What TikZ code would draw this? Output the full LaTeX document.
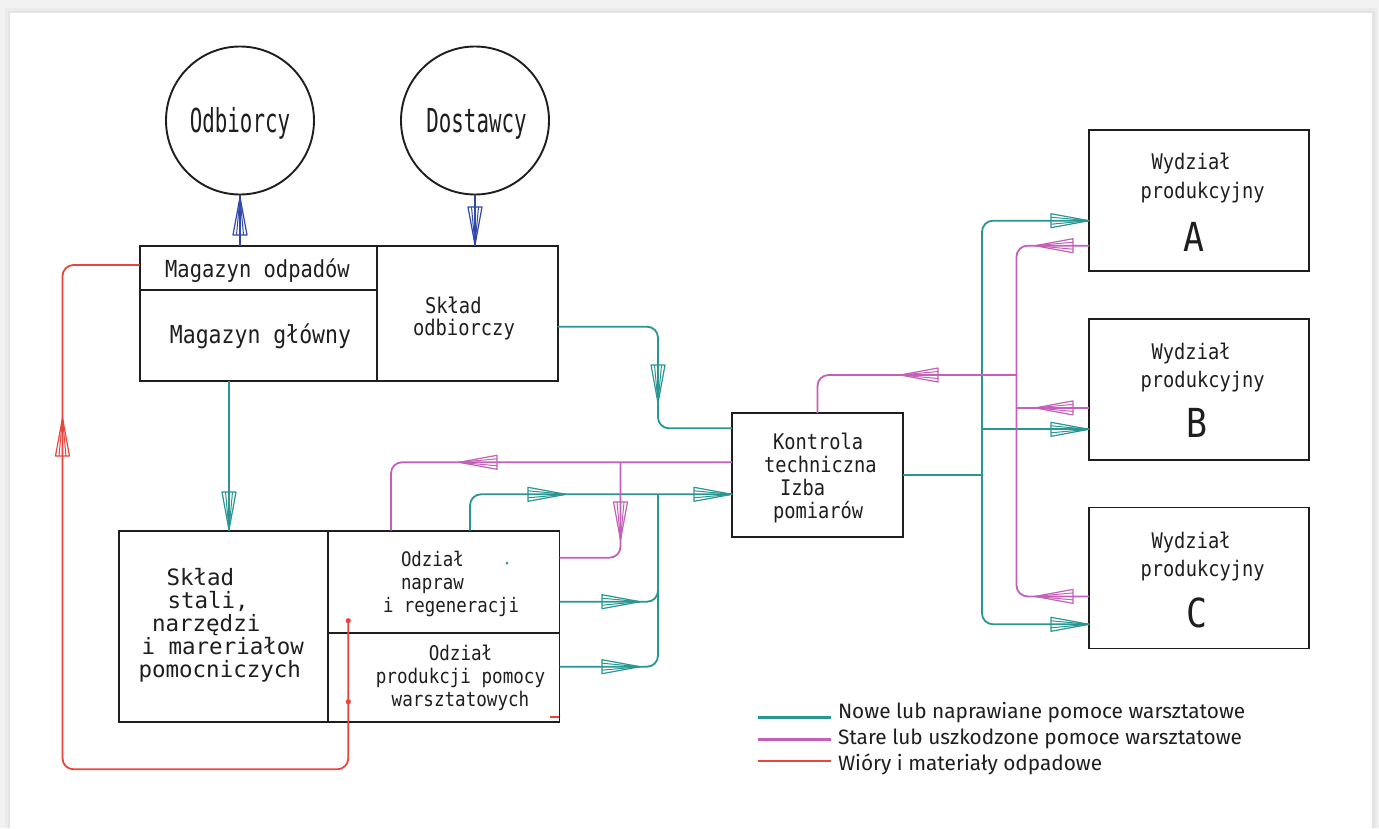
\documentclass[tikz,border=0pt]{standalone}
\usepackage{fontspec}
\usetikzlibrary{calc}
\newfontfamily\iso[FakeStretch=0.87]{DejaVu Sans Mono}
\newfontfamily\isoC[FakeStretch=0.63]{DejaVu Sans Mono}
\newfontfamily\isoW{DejaVu Sans Mono}
\newfontfamily\leg{Fira Sans}
\newcommand\myfs[2]{\fontsize{#1}{#2}\selectfont}
\definecolor{tealc}{RGB}{42,150,146}
\definecolor{magc}{RGB}{196,96,184}
\definecolor{redc}{RGB}{234,68,62}
\definecolor{bluec}{RGB}{48,72,170}
\definecolor{ink}{RGB}{30,30,30}
\begin{document}
\begin{tikzpicture}[x=1pt,y=-1pt,
  box/.style={draw=ink, line width=1.9pt, inner sep=0pt, outer sep=0pt, rectangle},
  conn/.style={line width=1.8pt, rounded corners=11pt},
  tl/.style={conn, draw=tealc},
  mg/.style={conn, draw=magc},
  rd/.style={conn, draw=redc},
  bl/.style={conn, draw=bluec, line width=1.5pt},
  txt/.style={inner sep=0pt, outer sep=0pt, text=ink},
  harrow/.pic={\draw[line width=1.2pt, line join=round] (0,0) -- (-38,7) -- (-38,-7) -- cycle;
               \draw[line width=1pt] (-38,3.5) -- (0,0) -- (-38,-3.5);}]
\useasboundingbox (0,0) rectangle (1379,828);
% background panel
\fill[black!5] (0,0) rectangle (1379,828);
\fill[black!8] (5,8) rectangle (1377,828);
\fill[black!11] (8,11) rectangle (1375,828);
\fill[white] (10,13) rectangle (1372,828);

% circles
\node[box, circle, minimum size=148pt] (odbiorcy) at (240,120.5) {};
\node[box, circle, minimum size=148pt] (dostawcy) at (475,120.5) {};
% upper block
\node[box, minimum width=237.3pt, minimum height=44.3pt] (odp) at (258.35,267.85) {};
\node[box, minimum width=237.3pt, minimum height=91pt] (glow) at (258.35,335.5) {};
\node[box, minimum width=180.6pt, minimum height=135.3pt] (odb) at (467.3,313.35) {};
% lower block
\node[box, minimum width=209.8pt, minimum height=191pt] (stal) at (223.5,626.2) {};
\node[box, minimum width=231.1pt, minimum height=102.3pt] (napr) at (443.95,581.85) {};
\node[box, minimum width=231.1pt, minimum height=88.7pt] (prod) at (443.95,677.35) {};
% control
\node[box, minimum width=171pt, minimum height=124pt] (kontr) at (817.5,475) {};
% production departments
\node[box, minimum width=220pt, minimum height=141pt] (wA) at (1199,200.5) {};
\node[box, minimum width=220pt, minimum height=141pt] (wB) at (1199,389.5) {};
\node[box, minimum width=220pt, minimum height=141pt] (wC) at (1199,578) {};

% helper coordinates
\coordinate (tbus) at (982,0);
\coordinate (mbus) at (1016.5,0);
\coordinate (tx) at (658,0);
\coordinate (mx) at (620.5,0);
\coordinate (mK) at (1016.5,375);
\coordinate (tA) at ([yshift=-20.2pt]wA.west);
\coordinate (mA) at ([yshift=-45.2pt]wA.west);
\coordinate (mB) at ([yshift=-18.4pt]wB.west);
\coordinate (tB) at ([yshift=-39.8pt]wB.west);
\coordinate (mC) at ([yshift=-18.4pt]wC.west);
\coordinate (tC) at ([yshift=-46.3pt]wC.west);
\coordinate (kT1) at ([yshift=46.7pt]kontr.west);
\coordinate (kM) at ([yshift=12.7pt]kontr.west);
\coordinate (kT2) at ([yshift=-19.3pt]kontr.west);
\coordinate (rL) at (62.5,769.3);
\coordinate (rE) at (348.3,620.7);
\coordinate (rD) at (348.3,701.7);

% blue
\draw[bl] ([xshift=-18.35pt]odp.north) -- (odbiorcy.south);
\draw[bl] (dostawcy.south) -- ([xshift=7.7pt]odb.north);
\pic[color=bluec, rotate=90] at (240,197) {harrow};
\pic[color=bluec, rotate=-90] at (475,245) {harrow};

% teal
\draw[tl] ([xshift=-29.35pt]glow.south) -- ([xshift=5.5pt]stal.north);
\draw[tl] ([yshift=-13.35pt]odb.east) -| (tx |- kT1) -- (kT1);
\draw[tl] ([xshift=26.05pt]napr.north) |- (kT2);
\draw[tl] ([yshift=-19.85pt]napr.east) -| (tx |- kT2);
\draw[tl] ([yshift=10.65pt]prod.east) -| (tx |- kT2);
\draw[tl] (kontr.east) -- (kontr.east -| tbus);
\draw[tl] (tA) -| (tbus |- wB.west) |- (tC);
\draw[tl] (tB) -- (tB -| tbus);
\pic[color=tealc, rotate=-90] at (229,530) {harrow};
\pic[color=tealc, rotate=-90] at (658,403) {harrow};
\pic[color=tealc] at (566,494.3) {harrow};
\pic[color=tealc] at (732,494.3) {harrow};
\pic[color=tealc] at (640,601.7) {harrow};
\pic[color=tealc] at (640,666.7) {harrow};
\pic[color=tealc] at (1089,220.7) {harrow};
\pic[color=tealc] at (1089,429.3) {harrow};
\pic[color=tealc] at (1089,624.3) {harrow};
\fill[tealc] (507,563) circle (1.5);

% magenta
\draw[mg] (mA) -| (mbus |- wB.west) |- (mC);
\draw[mg] (mB) -- (mB -| mbus);
\draw[mg] (mK) -| (kontr.north);
\draw[mg] (kM) -| ([xshift=-52.95pt]napr.north);
\draw[mg] (kM -| mx) |- ([yshift=24.15pt]napr.east);
\pic[color=magc, rotate=180] at (900,375) {harrow};
\pic[color=magc, rotate=180] at (459,462.3) {harrow};
\pic[color=magc, rotate=-90] at (620.5,540) {harrow};
\pic[color=magc, rotate=180] at (1035,245.7) {harrow};
\pic[color=magc, rotate=180] at (1035,407.9) {harrow};
\pic[color=magc, rotate=180] at (1035,596.4) {harrow};

% red
\draw[rd] ([yshift=2.85pt]odp.west) -| (rL) -| (rE);
\pic[color=redc, rotate=90] at (62.5,418) {harrow};
\fill[redc] (rE) circle (2.6);
\fill[redc] (rD) circle (2.6);
\draw[redc, line width=1.5pt] (550,717) -- (559,717);

% texts (base anchor of a multi-line node = baseline of its last line)
\node[txt, anchor=base, font={\isoC\myfs{33}{33}}] (tOdb) at (240,132) {Odbiorcy};
\node[txt, anchor=base, font={\isoC\myfs{33}{33}}] (tDos) at (476.5,132) {Dostawcy};
\node[txt, anchor=base, font={\iso\myfs{23.5}{23.5}}] (tOdp) at (257.5,277) {Magazyn odpadów};
\node[txt, anchor=base, font={\iso\myfs{24.7}{24.7}}] (tGlow) at (260.5,343) {Magazyn główny};
\node[txt, anchor=base west, align=left, font={\iso\myfs{21.6}{22}}] (tOdb2) at (413,335) {\hspace*{12pt}Skład\\odbiorczy};
\node[txt, anchor=base west, align=left, font={\isoW\myfs{22.5}{23}}] (tStal) at (138.5,677)
  {\hspace*{28pt}Skład\\\hspace*{29pt}stali,\\\hspace*{13.5pt}narzędzi\\\hspace*{3pt}i mareriałow\\pomocniczych};
\node[txt, anchor=base west, align=left, font={\iso\myfs{20}{23}}] (tNapr) at (383,612.7)
  {\hspace*{18pt}Odział\\\hspace*{18pt}napraw\\i regeneracji};
\node[txt, anchor=base, align=center, font={\iso\myfs{20.2}{23}}] (tProd) at (460.5,706)
  {Odział\\produkcji pomocy\\warsztatowych};
\node[txt, anchor=base west, align=left, font={\iso\myfs{21.5}{22.7}}] (tKontr) at (764,518)
  {\hspace*{9pt}Kontrola\\techniczna\\\hspace*{16pt}Izba\\\hspace*{9pt}pomiarów};
\node[txt, anchor=base west, align=left, font={\iso\myfs{21.5}{28.5}}] (tWA) at (1140.7,198.1) {\hspace*{11pt}Wydział\\produkcyjny};
\node[txt, anchor=base west, align=left, font={\iso\myfs{21.5}{28.5}}] (tWB) at (1140.7,387.5) {\hspace*{11pt}Wydział\\produkcyjny};
\node[txt, anchor=base west, align=left, font={\iso\myfs{21.5}{28.5}}] (tWC) at (1140.7,576.5) {\hspace*{11pt}Wydział\\produkcyjny};
\node[txt, anchor=base, font={\iso\myfs{40}{40}}] (lA) at (1194,251) {A};
\node[txt, anchor=base, font={\iso\myfs{40}{40}}] (lB) at (1197,437) {B};
\node[txt, anchor=base, font={\iso\myfs{40}{40}}] (lC) at (1197,627) {C};

% legend
\node[txt, anchor=base west, font={\leg\myfs{20.8}{20.8}}] (l1) at (838,718) {Nowe lub naprawiane pomoce warsztatowe};
\node[txt, anchor=base west, font={\leg\myfs{20.8}{20.8}}] (l2) at (838,744) {Stare lub uszkodzone pomoce warsztatowe};
\node[txt, anchor=base west, font={\leg\myfs{20.8}{20.8}}] (l3) at (838,770) {Wióry i materiały odpadowe};
\draw[tealc, line width=2.2pt] ([xshift=-80pt]l1.base west |- 0,717.5) -- ([xshift=-7pt]l1.base west |- 0,717.5);
\draw[magc, line width=2.2pt] ([xshift=-80pt]l2.base west |- 0,739.5) -- ([xshift=-7pt]l2.base west |- 0,739.5);
\draw[redc, line width=2.2pt] ([xshift=-80pt]l3.base west |- 0,761) -- ([xshift=-7pt]l3.base west |- 0,761);
\end{tikzpicture}
\end{document}
